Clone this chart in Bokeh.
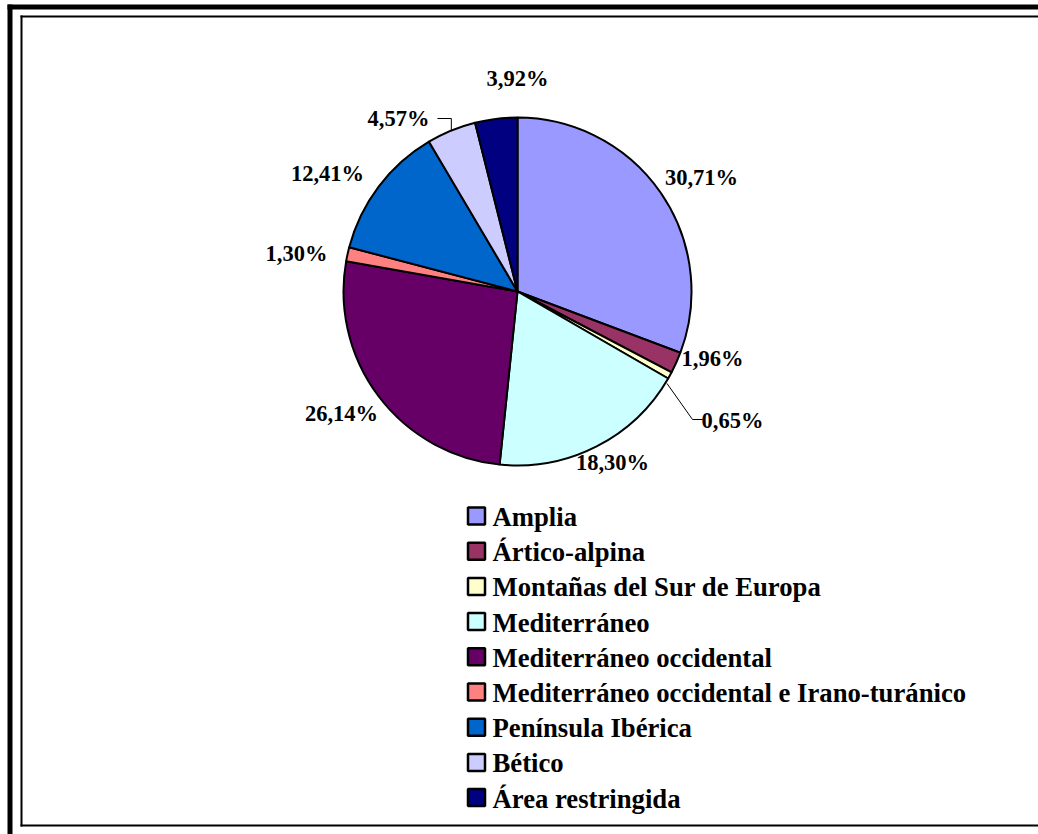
import numpy as np
from bokeh.plotting import figure
from bokeh.models import Range1d
from bokeh.core.properties import value
from bokeh.embed import file_html
from bokeh.resources import INLINE

# Distribution categories (clockwise from 12 o'clock) and their shares in %
categories = [
    "Amplia",
    "Ártico-alpina",
    "Montañas del Sur de Europa",
    "Mediterráneo",
    "Mediterráneo occidental",
    "Mediterráneo occidental e Irano-turánico",
    "Península Ibérica",
    "Bético",
    "Área restringida",
]
shares = [30.71, 1.96, 0.65, 18.30, 26.14, 1.30, 12.41, 4.57, 3.92]
colors = ["#9999FF", "#993366", "#FFFFCC", "#CCFFFF", "#660066",
          "#FF8080", "#0066CC", "#CCCCFF", "#000080"]

W, H = 1038, 834
FONT = value("Liberation Serif")


def Y(py):
    """Convert a top-down pixel row into the plot's bottom-up y coordinate."""
    return H - np.asarray(py, dtype=float)


p = figure(width=W, height=H, x_range=Range1d(0, W), y_range=Range1d(0, H),
           x_axis_type=None, y_axis_type=None, toolbar_location=None,
           output_backend="svg", min_border=0, outline_line_color=None)
p.background_fill_color = "white"
p.border_fill_color = "white"

# Page frame: heavy outer rule plus a thin inner box
p.quad(left=[7, 7], right=[12, W], top=Y([4, 4]), bottom=Y([H, 9]),
       fill_color="black", line_color=None)
p.quad(left=[20, 20, 20], right=[22, W, W], top=Y([15, 15, 824]),
       bottom=Y([826, 17, 826]), fill_color="black", line_color=None)

# Pie
cx, cy, R = 517, 291, 174
frac = np.array(shares) / sum(shares)
cum = np.concatenate([[0.0], np.cumsum(frac)])
start = np.pi / 2 - 2 * np.pi * cum[1:]
end = np.pi / 2 - 2 * np.pi * cum[:-1]
mid = (start + end) / 2
p.wedge(x=cx, y=Y(cy), radius=R, start_angle=start, end_angle=end,
        fill_color=colors, line_color="black", line_width=2)

# Percentage labels, placed around the pie (offsets from the centre, px)
label_dx = [184, 195, 215, 95, -176, -221, -190, -119, 0]
label_dy = [-114, 67, 129, 171, 122, -38, -118, -173, -213]
labels = [f"{v:.2f}".replace(".", ",") + "%" for v in shares]
p.text(x=cx + np.array(label_dx), y=Y(cy + np.array(label_dy)), text=labels,
       text_font=FONT, text_font_style="bold", text_font_size="22.5px",
       text_align="center", text_baseline="middle", text_color="black")

# Leader lines for the two labels pulled away from their slices
rim_x = cx + R * np.cos(mid)
rim_y = cy - R * np.sin(mid)
i_b = categories.index("Bético")
i_m = categories.index("Montañas del Sur de Europa")
p.line(x=[rim_x[i_b], rim_x[i_b], 437], y=Y([rim_y[i_b], 118, 118]),
       line_color="black", line_width=1)
p.line(x=[rim_x[i_m] - 3, 692, 702], y=Y([rim_y[i_m] + 8, 419, 419]),
       line_color="black", line_width=1)

# Legend
row_y = 515.5 + 35.2 * np.arange(len(categories))
p.rect(x=476, y=Y(row_y), width=17, height=17, fill_color=colors,
       line_color="black", line_width=2.5)
p.text(x=492, y=Y(row_y + 1), text=categories, text_font=FONT,
       text_font_style="bold", text_font_size="26.7px", text_align="left",
       text_baseline="middle", text_color="black")

open("out.html", "w").write(file_html(p, INLINE))
